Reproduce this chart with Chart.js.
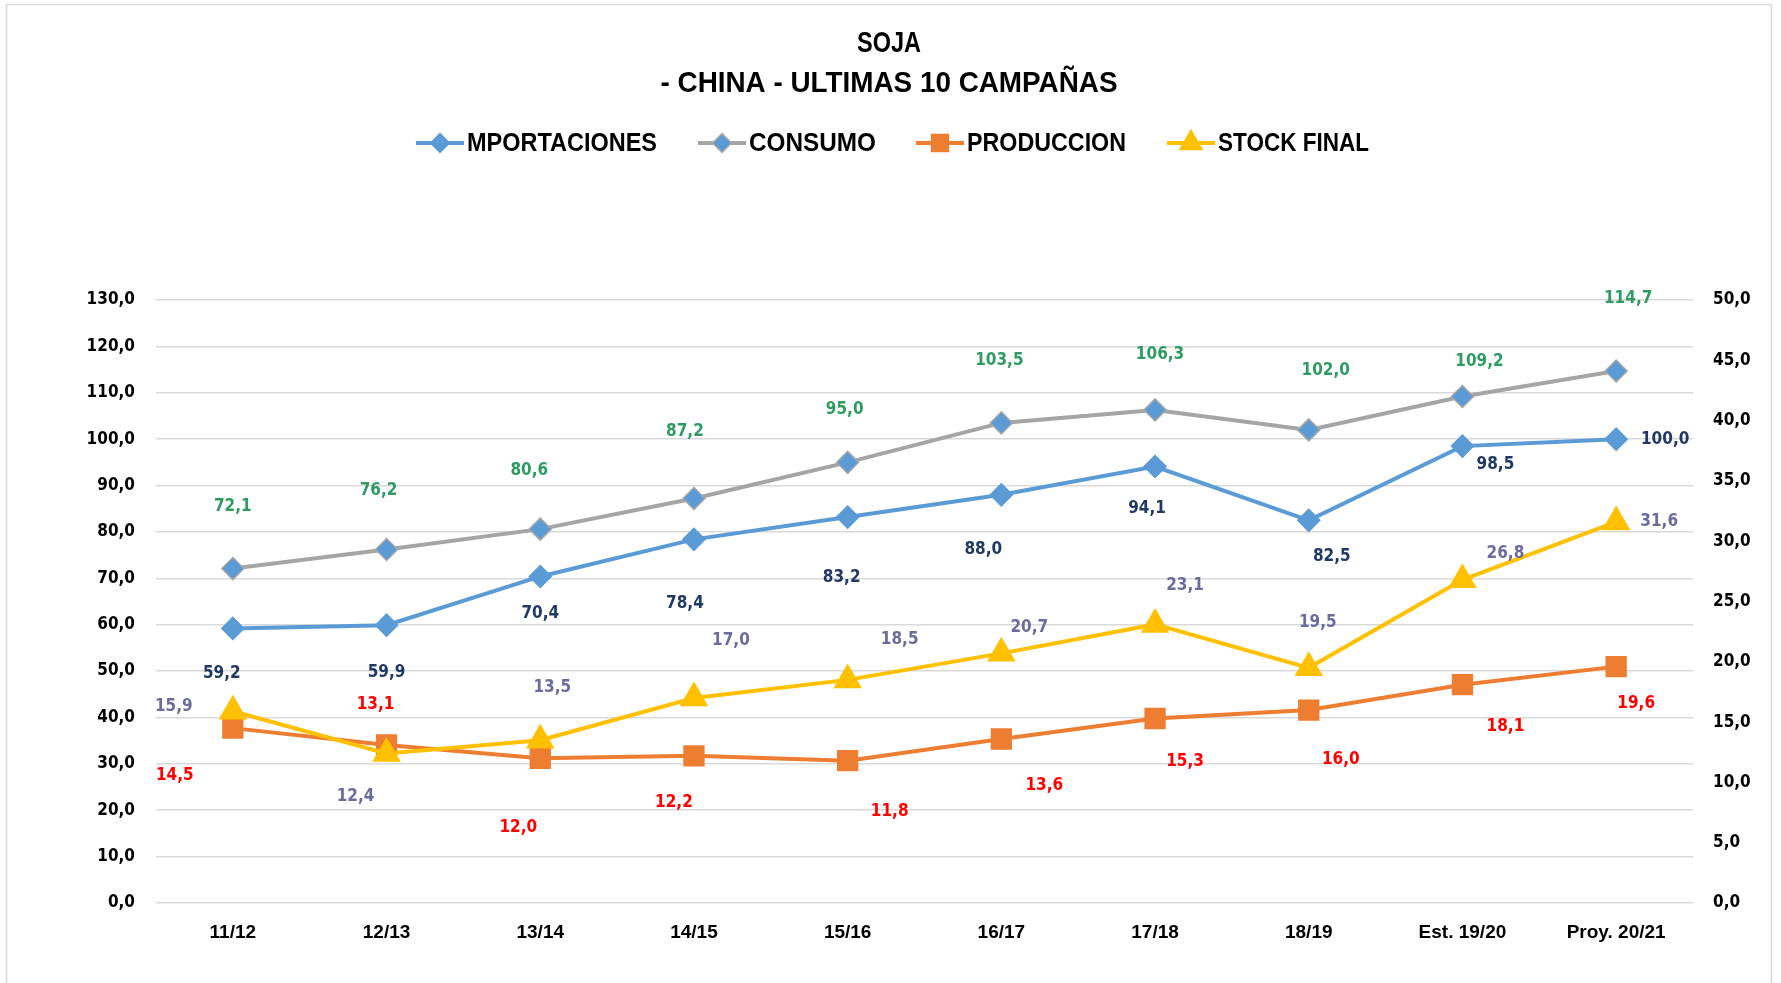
<!DOCTYPE html>
<html>
<head>
<meta charset="utf-8">
<title>Soja - China</title>
<script src="https://cdn.jsdelivr.net/npm/chart.js@4"></script>
<style>
  html, body { margin: 0; padding: 0; background: #fff; }
  #wrap { width: 1781px; height: 983px; }
</style>
</head>
<body>
<div id="wrap"><canvas id="chart" width="1781" height="983"></canvas></div>
<script>
  // ─── Data ───
  const campaigns = ['11/12', '12/13', '13/14', '14/15', '15/16', '16/17', '17/18', '18/19', 'Est. 19/20', 'Proy. 20/21'];
  const importaciones = [59.2, 59.9, 70.4, 78.4, 83.2, 88.0, 94.1, 82.5, 98.5, 100.0];
  const consumo = [72.1, 76.2, 80.6, 87.2, 95.0, 103.5, 106.3, 102.0, 109.2, 114.7];
  const produccion = [14.5, 13.1, 12.0, 12.2, 11.8, 13.6, 15.3, 16.0, 18.1, 19.6];
  const stockFinal = [15.9, 12.4, 13.5, 17.0, 18.5, 20.7, 23.1, 19.5, 26.8, 31.6];
  const leftTicks = [0, 130, 10];   // min, max, step
  const rightTicks = [0, 50, 5];

  // label offsets (px) from each point, as placed in the original
  const offImport = [[-11, 45], [0, 47], [0, 37], [-9, 64], [-6, 60], [-18, 55], [-8, 42], [23, 36], [33, 18], [49, 0]];
  const offConsumo = [[0, -62], [-8, -59], [-11, -59], [-9, -67], [-3, -53], [-2, -62], [5, -55], [17, -59], [17, -35], [12, -72]];
  const offProd = [[-58, 47], [-11, -40], [-22, 69], [-20, 47], [42, 51], [43, 47], [30, 43], [32, 50], [43, 42], [20, 37]];
  const offStock = [[-59, -5], [-31, 43], [12, -53], [37, -57], [52, -40], [28, -26], [30, -39], [9, -45], [43, -26], [43, 0]];

  const fmt = v => v.toFixed(1).replace('.', ',');
  const numFont = '"DejaVu Sans Condensed", "DejaVu Sans", Verdana, sans-serif';
  const narrowFont = '"Liberation Sans Narrow", "Arial Narrow", "Liberation Sans", sans-serif';

  const series = [
    { label: 'MPORTACIONES', data: importaciones, axis: 'y', line: '#5B9BD5', fill: '#5B9BD5', border: '#5B9BD5', style: 'rectRot', radius: 11, labelColor: '#1F3864', off: offImport, order: 3, legendW: 190 },
    { label: 'CONSUMO', data: consumo, axis: 'y', line: '#A5A5A5', fill: '#5B9BD5', border: '#A5A5A5', style: 'rectRot', radius: 11, labelColor: '#2E9B62', off: offConsumo, order: 2, legendW: 127 },
    { label: 'PRODUCCION', data: produccion, axis: 'y1', line: '#ED7D31', fill: '#ED7D31', border: '#ED7D31', style: 'rect', radius: 14, labelColor: '#FF0000', off: offProd, order: 1, legendW: 159 },
    { label: 'STOCK FINAL', data: stockFinal, axis: 'y1', line: '#FFC000', fill: '#FFC000', border: '#FFC000', style: 'triangle', radius: 15, labelColor: '#6B6B9E', off: offStock, order: 0, legendW: 151 }
  ];

  // ─── Title, legend, frame, value labels ───
  const decor = {
    id: 'decor',
    beforeDraw(chart) {
      const ctx = chart.ctx;
      ctx.save();
      ctx.strokeStyle = '#D9D9D9';
      ctx.lineWidth = 1.5;
      ctx.strokeRect(6.5, 4.5, 1765, 990);
      ctx.restore();
    },
    afterDraw(chart) {
      const ctx = chart.ctx;
      ctx.save();
      // title
      ctx.fillStyle = '#000';
      ctx.textAlign = 'center';
      ctx.textBaseline = 'middle';
      ctx.font = 'bold 30px ' + narrowFont;
      ctx.fillText('SOJA', 889, 44, 64);
      ctx.fillText('- CHINA - ULTIMAS 10 CAMPAÑAS', 889, 84, 457);

      // legend
      const legendX = [416, 698, 916, 1167];
      ctx.font = 'bold 26px ' + narrowFont;
      ctx.textAlign = 'left';
      series.forEach((s, i) => {
        const x0 = legendX[i], y = 143;
        ctx.strokeStyle = s.line;
        ctx.lineWidth = 4;
        ctx.beginPath(); ctx.moveTo(x0, y); ctx.lineTo(x0 + 48, y); ctx.stroke();
        ctx.fillStyle = s.fill;
        ctx.strokeStyle = s.border;
        ctx.lineWidth = 1.5;
        Chart.helpers.drawPoint(ctx, { pointStyle: s.style, radius: s.radius * 0.85, rotation: 0, borderWidth: 1.5 }, x0 + 24, y);
        ctx.fillStyle = '#000';
        ctx.fillText(s.label, x0 + 51, y + 1, s.legendW);
      });

      // value labels
      ctx.font = 'bold 17px ' + numFont;
      ctx.textAlign = 'center';
      series.forEach((s, i) => {
        const meta = chart.getDatasetMeta(i);
        ctx.fillStyle = s.labelColor;
        meta.data.forEach((pt, j) => {
          ctx.fillText(fmt(s.data[j]), pt.x + s.off[j][0], pt.y + s.off[j][1]);
        });
      });
      ctx.restore();
    }
  };

  new Chart(document.getElementById('chart'), {
    type: 'line',
    data: {
      labels: campaigns,
      datasets: series.map(s => ({
        label: s.label,
        data: s.data,
        yAxisID: s.axis,
        order: s.order,
        borderColor: s.line,
        borderWidth: 4,
        pointStyle: s.style,
        pointRadius: s.radius,
        pointHoverRadius: s.radius,
        pointBackgroundColor: s.fill,
        pointBorderColor: s.border,
        pointBorderWidth: 1.5,
        tension: 0,
        fill: false
      }))
    },
    options: {
      responsive: false,
      animation: false,
      layout: { padding: { top: 300, left: 0, right: 0, bottom: 0 } },
      plugins: { legend: { display: false }, title: { display: false }, tooltip: { enabled: false } },
      scales: {
        x: {
          offset: true,
          grid: { display: false },
          border: { display: false },
          ticks: { color: '#000', font: { family: narrowFont, size: 19, weight: 'bold' }, padding: 10, maxRotation: 0, autoSkip: false },
          afterFit: s => { s.height = 80; }
        },
        y: {
          position: 'left',
          min: leftTicks[0], max: leftTicks[1],
          grid: { color: '#D9D9D9', lineWidth: 1.5, drawTicks: false },
          border: { display: false },
          ticks: { stepSize: leftTicks[2], color: '#000', padding: 21, font: { family: numFont, size: 17, weight: 'bold' }, callback: v => fmt(v) },
          afterFit: s => { s.width = 156; }
        },
        y1: {
          position: 'right',
          min: rightTicks[0], max: rightTicks[1],
          grid: { display: false, drawTicks: false },
          border: { display: false },
          ticks: { stepSize: rightTicks[2], color: '#000', padding: 20, font: { family: numFont, size: 17, weight: 'bold' }, callback: v => fmt(v) },
          afterFit: s => { s.width = 88; }
        }
      }
    },
    plugins: [decor]
  });
</script>
</body>
</html>
